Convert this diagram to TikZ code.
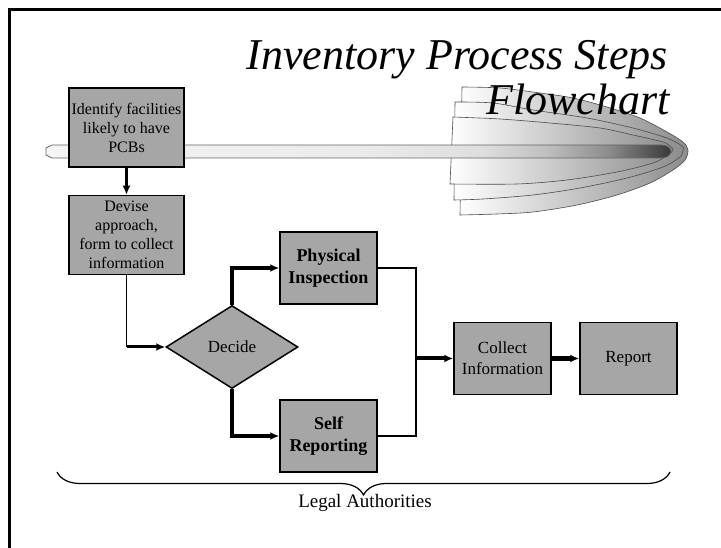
\documentclass[tikz,border=0pt]{standalone}
\usepackage{fontspec}
\setmainfont{Liberation Serif}
\usetikzlibrary{arrows.meta,shapes.geometric,decorations.pathreplacing}
\definecolor{boxgray}{gray}{0.65}
\pgfdeclarehorizontalshading{tubeshade}{100bp}{color(0bp)=(black!4); color(25bp)=(black!4); color(50bp)=(black!8); color(60bp)=(black!13); color(65bp)=(black!25); color(70bp)=(black!45); color(75bp)=(black!78); color(100bp)=(black!78)}
\tikzset{
  box/.style={draw,fill=boxgray,line width=1.5pt,minimum width=97pt,minimum height=72pt,
    inner sep=0pt,align=center,font=\fontsize{17}{21}\selectfont},
  bigbox/.style={box,minimum width=115pt,minimum height=79pt,font=\fontsize{16}{19}\selectfont},
  boldbox/.style={box,font=\fontsize{18}{22}\selectfont\bfseries},
  flow/.style={line width=3pt,-{Latex[length=9pt,width=8pt]}},
  merge/.style={line width=2pt},
  layer/.style={draw=black!70,line width=0.6pt,left color=white,right color=black!45},
  titletext/.style={font=\fontsize{44}{45}\selectfont\itshape,inner sep=0pt},
}
\begin{document}
\begin{tikzpicture}[x=1pt,y=-1pt]
\useasboundingbox (0,0) rectangle (721,548);
\fill[white] (0,0) rectangle (721,548);
\draw[line width=3pt] (9.5,548) -- (9.5,9.5) -- (721,9.5);

\draw[layer] plot[smooth] coordinates {(462,87) (500,88) (540,93) (573,98) (607,107) (640,118)
  (667,132) (683,142) (688,150) (685,160) (673,170) (650,183) (617,195) (577,205) (533,212)
  (497,214) (460,215)} -- cycle;
\draw[layer] plot[smooth] coordinates {(455,102) (493,103) (533,110) (587,118) (633,128)
  (667,138) (682,146) (683,150) (680,157) (663,167) (627,178) (580,188) (533,195) (483,199)
  (454,200)} -- cycle;
\draw[layer] plot[smooth] coordinates {(453,117) (500,119) (550,123) (600,128) (633,135)
  (663,142) (671,147) (673,150) (668,155) (653,163) (617,172) (567,180) (517,184) (450,184)} -- cycle;
\shadedraw[shading=tubeshade,draw=black!60,line width=0.8pt] (52,145) -- (662,145)
  .. controls (668,145) and (671,149) .. (671,151.5)
  .. controls (671,154) and (668,158) .. (662,158) -- (52,158) -- (46,155) -- (46,148) -- cycle;

\node[titletext,anchor=base east] (title) at (668,70) {Inventory Process Steps};
\node[titletext,anchor=base east] (subtitle) at (670,115) {Flowchart};

\node[bigbox] (identify) at (126.5,127.5) {Identify facilities\\likely to have\\PCBs};
\node[bigbox] (devise) at (126.5,235) {Devise\\approach,\\form to collect\\information};
\node[diamond,draw,fill=boxgray,line width=1.5pt,minimum width=132pt,minimum height=83pt,
  aspect=1.6,inner sep=0pt,font=\fontsize{17}{21}\selectfont] (decide) at (232,347) {Decide};
\node[boldbox] (physical) at (328.5,268) {Physical\\Inspection};
\node[boldbox] (self) at (328.5,436) {Self\\Reporting};
\node[box] (collect) at (502.5,358.5) {Collect\\Information};
\node[box] (report) at (628.5,358.5) {Report};
\coordinate (join) at (416,358.5);

\draw[flow] (identify) -- (devise);
\draw[line width=1.5pt] (devise.south) -- (devise.south |- decide.west);
\draw[flow] (devise.south |- decide.west) -- (decide.west);
\draw[flow,line width=3.5pt] (decide.north) |- (physical.west);
\draw[flow,line width=3.5pt] (decide.south) |- (self.west);
\draw[merge] (physical.east) -| (join);
\draw[merge] (self.east) -| (join);
\draw[flow,line width=4pt] (join) -- (collect.west);
\draw[flow,line width=5pt] (collect) -- (report);

\coordinate (bl) at (57,472);
\coordinate (br) at (670,472);
\draw[decorate,decoration={brace,mirror,amplitude=23pt},line width=1.2pt] (bl) -- (br);
\node[font=\fontsize{19}{22}\selectfont,anchor=base,inner sep=0pt] (legal) at (365,507) {Legal Authorities};
\end{tikzpicture}
\end{document}
